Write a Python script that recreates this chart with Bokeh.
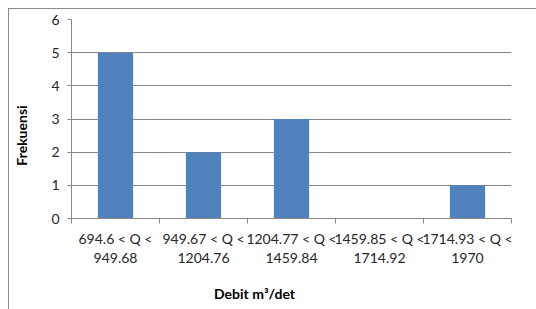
from bokeh.plotting import figure
from bokeh.models import FixedTicker, ColumnDataSource, LinearAxis
from bokeh.embed import file_html
from bokeh.resources import INLINE

labels = ["694.6 < Q <\n949.68", "949.67 < Q <\n1204.76", "1204.77 < Q <\n1459.84",
          "1459.85 < Q <\n1714.92", "1714.93 < Q <\n1970"]
freq = [5, 2, 3, 0, 1]
y_ticks = [0, 1, 2, 3, 4, 5, 6]
x_title = "Debit m³/det"
y_title = "Frekuensi"

n = len(labels)
centers = [i + 0.5 for i in range(n)]
bounds = [i for i in range(n + 1)]

src = ColumnDataSource(dict(x=centers, top=freq))

p = figure(width=536, height=309, x_range=(0, n), y_range=(0, 6),
           output_backend="svg", toolbar_location=None,
           min_border_left=71, min_border_right=25, min_border_top=19, min_border_bottom=91,
           border_fill_color=None)
p.styles = {
    "background": ("linear-gradient(#8c8c8c,#8c8c8c) 8px 8px / 1px 100% no-repeat, "
                   "linear-gradient(#8c8c8c,#8c8c8c) 8px 8px / 100% 1px no-repeat, white"),
}

p.vbar(x="x", top="top", width=0.4, source=src, fill_color="#4F81BD", line_color=None)

FONT = "Lato"
p.xaxis.ticker = FixedTicker(ticks=centers, minor_ticks=bounds)
p.xaxis.major_label_overrides = {c: l for c, l in zip(centers, labels)}
p.xaxis.major_tick_out = 0
p.xaxis.major_tick_in = 0
p.xaxis.minor_tick_out = 5
p.xaxis.minor_tick_in = 0
p.xaxis.major_label_standoff = 6
p.xaxis.major_label_text_font_size = "14px"
p.xaxis.major_label_text_line_height = 1.15

p.yaxis.ticker = FixedTicker(ticks=y_ticks)
p.yaxis.major_tick_out = 4
p.yaxis.major_tick_in = 0
p.yaxis.minor_tick_out = 0
p.yaxis.minor_tick_in = 0
p.yaxis.major_label_standoff = 8
p.yaxis.major_label_text_font_size = "14px"

for ax in (p.xaxis, p.yaxis):
    ax.axis_line_color = "#868686"
    ax.major_tick_line_color = "#868686"
    ax.minor_tick_line_color = "#868686"
    ax.major_label_text_color = "#262626"
    ax.major_label_text_font = FONT

# Axis titles drawn as single-label helper axes (Excel places them off-centre)
x_title_pos = 2.08   # in category units along x
y_title_pos = 2.5    # in frequency units along y

def title_axis(pos, text, standoff, orientation="horizontal"):
    a = LinearAxis(ticker=FixedTicker(ticks=[pos]), major_label_overrides={pos: text},
                   axis_line_color=None, major_tick_line_color=None, minor_tick_line_color=None,
                   major_tick_out=0, major_tick_in=0, minor_tick_out=0, minor_tick_in=0,
                   major_label_standoff=standoff, major_label_orientation=orientation,
                   major_label_text_font=FONT, major_label_text_font_size="14px",
                   major_label_text_font_style="bold", major_label_text_color="#000000")
    return a

p.add_layout(title_axis(x_title_pos, x_title, 15), "below")
p.add_layout(title_axis(y_title_pos, y_title, 18, "vertical"), "left")

p.xgrid.grid_line_color = None
p.ygrid.ticker = FixedTicker(ticks=y_ticks)
p.ygrid.grid_line_color = "#868686"
p.outline_line_color = None
p.background_fill_color = "white"

open("out.html", "w").write(file_html(p, INLINE))
